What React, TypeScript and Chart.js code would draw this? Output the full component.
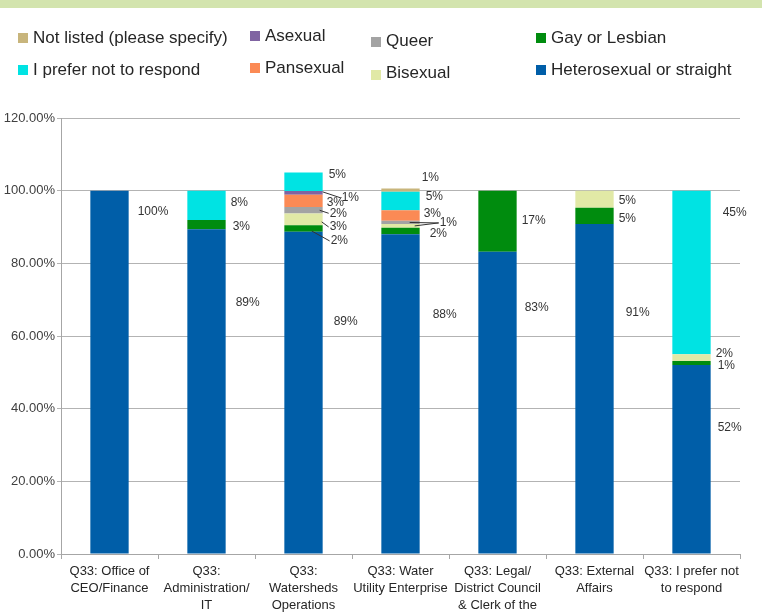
import React, { useEffect, useRef } from "react";
import { Chart, registerables } from "chart.js";

Chart.register(...registerables);

const categories: string[][] = [
  ["Q33: Office of", "CEO/Finance"],
  ["Q33:", "Administration/", "IT"],
  ["Q33:", "Watersheds", "Operations"],
  ["Q33: Water", "Utility Enterprise"],
  ["Q33: Legal/", "District Council", "& Clerk of the", "Board"],
  ["Q33: External", "Affairs"],
  ["Q33: I prefer not", "to respond"],
];

// values in percent, category order as above
const heterosexual = [100, 89.4, 88.7, 88.0, 83.2, 90.8, 52.0];
const gayLesbian = [0, 2.5, 1.8, 1.8, 16.8, 4.5, 1.1];
const bisexual = [0, 0, 3.2, 1.0, 0, 4.7, 1.9];
const queer = [0, 0, 1.8, 0.9, 0, 0, 0];
const pansexual = [0, 0, 3.4, 2.9, 0, 0, 0];
const asexual = [0, 0, 1.0, 0, 0, 0, 0];
const preferNot = [0, 8.1, 5.1, 5.1, 0, 0, 45.0];
const notListed = [0, 0, 0, 0.9, 0, 0, 0];

const yTicks = [0, 20, 40, 60, 80, 100, 120];

const FONT = '"Liberation Sans", Arial, sans-serif';

const seriesDefs = [
  { label: "Heterosexual or straight", data: heterosexual, color: "#005ea8" },
  { label: "Gay or Lesbian", data: gayLesbian, color: "#008c0e" },
  { label: "Bisexual", data: bisexual, color: "#e1e9a6" },
  { label: "Queer", data: queer, color: "#a3a3a3" },
  { label: "Pansexual", data: pansexual, color: "#fb8a55" },
  { label: "Asexual", data: asexual, color: "#8064a2" },
  { label: "I prefer not to respond", data: preferNot, color: "#00e3e3" },
  { label: "Not listed (please specify)", data: notListed, color: "#c8b57c" },
];

// label placement (style): dataset index, category index, offsets from bar right edge / segment centre
type Spot = { ds: number; cat: number; dx: number; dy: number; lead?: [number, number]; hide?: boolean };
const labelSpots: Spot[] = [
  { ds: 0, cat: 0, dx: 9, dy: -160 },
  { ds: 0, cat: 1, dx: 10, dy: -89 },
  { ds: 1, cat: 1, dx: 7, dy: 2 },
  { ds: 6, cat: 1, dx: 5, dy: -3 },
  { ds: 0, cat: 2, dx: 11, dy: -71 },
  { ds: 1, cat: 2, dx: 8, dy: 12.5, lead: [-11, 2.5] },
  { ds: 2, cat: 2, dx: 7, dy: 7.6, lead: [-1, 2.5] },
  { ds: 3, cat: 2, dx: 7, dy: 3, lead: [-3, 0] },
  { ds: 4, cat: 2, dx: 4, dy: 2 },
  { ds: 5, cat: 2, dx: 19, dy: 5, lead: [0, -1] },
  { ds: 6, cat: 2, dx: 6, dy: -7 },
  { ds: 0, cat: 3, dx: 13, dy: -79 },
  { ds: 1, cat: 3, dx: 10, dy: 3 },
  { ds: 2, cat: 3, dx: 20, dy: -3, lead: [-5, 0], hide: true },
  { ds: 3, cat: 3, dx: 20, dy: 0.5, lead: [-10, 0] },
  { ds: 4, cat: 3, dx: 4, dy: -1.5 },
  { ds: 6, cat: 3, dx: 6, dy: -4 },
  { ds: 7, cat: 3, dx: 2, dy: -12 },
  { ds: 0, cat: 4, dx: 8, dy: -95 },
  { ds: 1, cat: 4, dx: 5, dy: 0 },
  { ds: 0, cat: 5, dx: 12, dy: -76 },
  { ds: 1, cat: 5, dx: 5, dy: 3 },
  { ds: 2, cat: 5, dx: 5, dy: 1 },
  { ds: 0, cat: 6, dx: 7, dy: -32 },
  { ds: 1, cat: 6, dx: 7, dy: 3 },
  { ds: 2, cat: 6, dx: 5, dy: -4 },
  { ds: 6, cat: 6, dx: 12, dy: -60 },
];

const legendItems = [
  { ds: 7, left: 18, top: 38, sq: 38 },
  { ds: 5, left: 250, top: 36, sq: 36 },
  { ds: 3, left: 371, top: 41, sq: 42 },
  { ds: 1, left: 536, top: 38, sq: 38 },
  { ds: 6, left: 18, top: 70, sq: 70 },
  { ds: 4, left: 250, top: 68, sq: 68 },
  { ds: 2, left: 371, top: 73, sq: 75 },
  { ds: 0, left: 536, top: 70, sq: 70 },
];

const labelPlugin = {
  id: "segLabels",
  afterDatasetsDraw(chart: any) {
    const ctx = chart.ctx;
    ctx.save();
    ctx.font = `12px ${FONT}`;
    ctx.fillStyle = "#333333";
    ctx.strokeStyle = "#333333";
    ctx.lineWidth = 1;
    ctx.textAlign = "left";
    ctx.textBaseline = "middle";
    for (const s of labelSpots) {
      const meta = chart.getDatasetMeta(s.ds);
      const el: any = meta.data[s.cat];
      if (!el) continue;
      const p = el.getProps(["x", "y", "base", "width"], true);
      const right = p.x + p.width / 2;
      const cy = (p.y + p.base) / 2;
      const tx = right + s.dx;
      const ty = cy + s.dy;
      if (s.lead) {
        ctx.beginPath();
        ctx.moveTo(right + s.lead[0], cy + s.lead[1]);
        ctx.lineTo(tx - 1, ty);
        ctx.stroke();
      }
      if (!s.hide) {
        const v = chart.data.datasets[s.ds].data[s.cat] as number;
        ctx.fillText(`${Math.round(v)}%`, tx, ty);
      }
    }
    ctx.restore();
  },
};

export default function App() {
  const ref = useRef<HTMLCanvasElement | null>(null);

  useEffect(() => {
    if (!ref.current) return;
    const chart = new Chart(ref.current, {
      type: "bar",
      data: {
        labels: categories as any,
        datasets: seriesDefs.map((s) => ({
          label: s.label,
          data: s.data,
          backgroundColor: s.color,
          borderWidth: 0,
          barPercentage: 0.395,
          categoryPercentage: 1,
        })),
      },
      options: {
        responsive: false,
        animation: false,
        layout: { padding: { top: 118, right: 22, left: 0, bottom: 0 } },
        plugins: {
          legend: { display: false },
          tooltip: { enabled: false },
        },
        scales: {
          x: {
            stacked: true,
            grid: {
              display: true,
              drawOnChartArea: false,
              drawTicks: true,
              tickLength: 5,
              color: "#a6a6a6",
              offset: true,
            },
            border: { color: "#a6a6a6" },
            ticks: {
              autoSkip: false,
              maxRotation: 0,
              minRotation: 0,
              padding: 4,
              color: "#262626",
              font: { family: FONT, size: 13, lineHeight: 1.3 },
            },
            afterFit: (s: any) => {
              s.height = 60;
            },
          },
          y: {
            stacked: true,
            min: yTicks[0],
            max: yTicks[yTicks.length - 1],
            afterBuildTicks: (s: any) => {
              s.ticks = yTicks.map((v) => ({ value: v }));
            },
            ticks: {
              padding: 2,
              color: "#404040",
              font: { family: FONT, size: 13 },
              callback: (v: any) => Number(v).toFixed(2) + "%",
            },
            grid: { color: "#b3b3b3", tickLength: 4 },
            border: { color: "#a6a6a6" },
            afterFit: (s: any) => {
              s.width = 61;
            },
          },
        },
      },
      plugins: [labelPlugin],
    });
    return () => chart.destroy();
  }, []);

  return (
    <div
      style={{
        position: "absolute",
        left: 0,
        top: 0,
        width: 762,
        height: 614,
        overflow: "hidden",
        background: "#ffffff",
        fontFamily: FONT,
      }}
    >
      <div style={{ position: "absolute", left: 0, top: 0, width: 762, height: 8, background: "#d3e4ae" }} />
      <canvas ref={ref} width={762} height={614} style={{ position: "absolute", left: 0, top: 0, width: 762, height: 614 }} />
      {legendItems.map((it, i) => {
        const s = seriesDefs[it.ds];
        return (
          <React.Fragment key={i}>
            <div
              style={{
                position: "absolute",
                left: it.left,
                top: it.sq - 5,
                width: 10,
                height: 10,
                background: s.color,
              }}
            />
            <div
              style={{
                position: "absolute",
                left: it.left + 15,
                top: it.top - 11,
                height: 22,
                lineHeight: "22px",
                fontSize: 17,
                color: "#262626",
                whiteSpace: "nowrap",
              }}
            >
              {s.label}
            </div>
          </React.Fragment>
        );
      })}
    </div>
  );
}
